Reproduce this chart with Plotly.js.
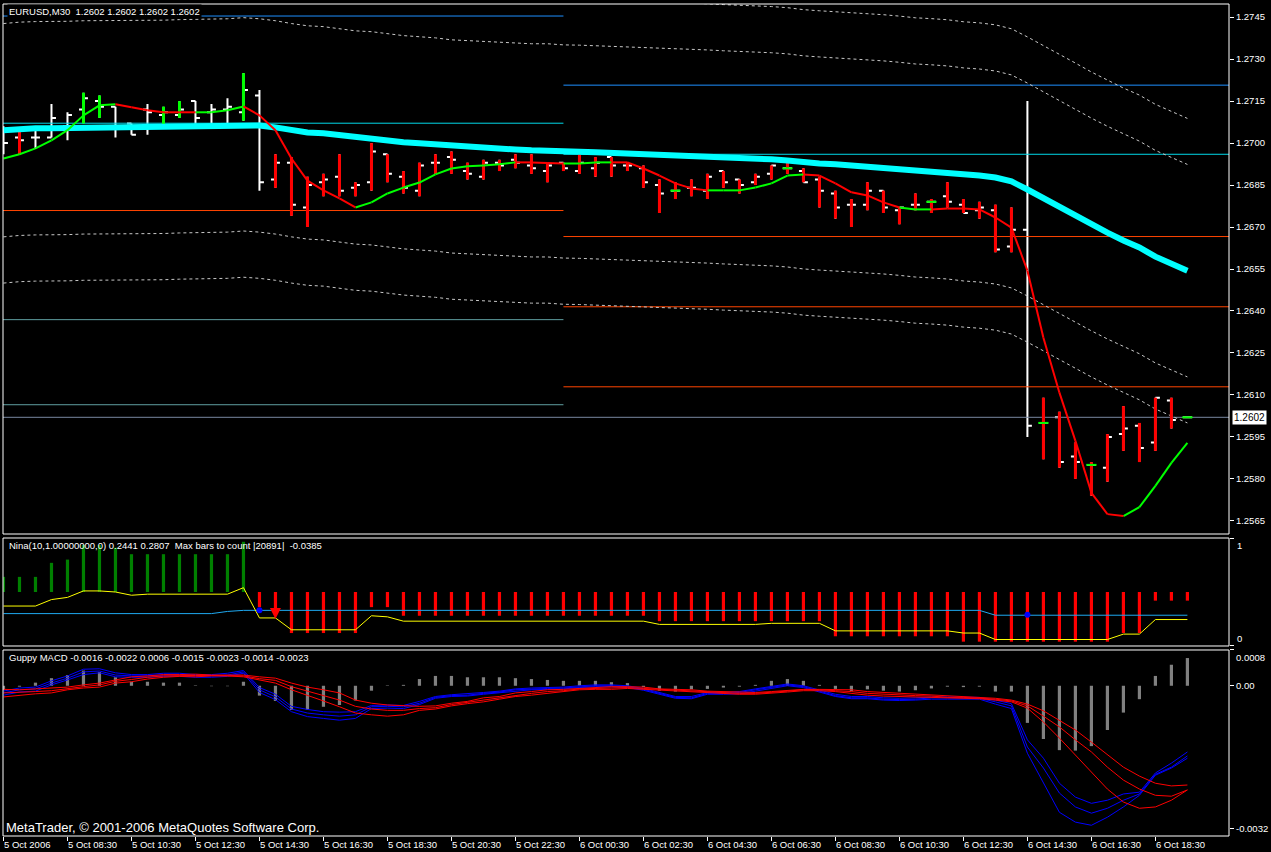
<!DOCTYPE html>
<html><head><meta charset="utf-8">
<script src="https://cdn.plot.ly/plotly-3.0.1.min.js"></script>
<style>html,body{margin:0;padding:0;background:#000;}#chart{width:1271px;height:852px;}</style>
</head><body><div id="chart"></div>
<script>
// ---------- DATA ----------
const tickIndex = [0,4,8,12,16,20,24,28,32,36,40,44,48,52,56,60,64,68,72];
const tickLabels = ["5 Oct 2006","5 Oct 08:30","5 Oct 10:30","5 Oct 12:30","5 Oct 14:30","5 Oct 16:30","5 Oct 18:30","5 Oct 20:30","5 Oct 22:30","6 Oct 00:30","6 Oct 02:30","6 Oct 04:30","6 Oct 06:30","6 Oct 08:30","6 Oct 10:30","6 Oct 12:30","6 Oct 14:30","6 Oct 16:30","6 Oct 18:30"];

const open  = [1.2697,1.2702,1.2702,1.2702,1.2706,1.2712,1.2715,1.2713,1.2707,1.2712,1.2710,1.2710,1.2715,1.2711,1.2712,1.2711,1.2717,1.2687,1.2693,1.2677,1.2686,1.2688,1.2684,1.2686,1.2696,1.2688,1.2683,1.2693,1.2695,1.2690,1.2688,1.2693,1.2694,1.2692,1.2690,1.2693,1.2690,1.2691,1.2695,1.2692,1.2691,1.2685,1.2683,1.2684,1.2683,1.2690,1.2687,1.2686,1.2689,1.2691,1.2690,1.2687,1.2682,1.2678,1.2678,1.2683,1.2676,1.2678,1.2679,1.2681,1.2678,1.2676,1.2676,1.2663,1.2669,1.2600,1.2602,1.2588,1.2585,1.2584,1.2596,1.2599,1.2593,1.2608,1.2602];
const high  = [1.2706,1.2704,1.2706,1.2714,1.2711,1.2718,1.2717,1.2713,1.2707,1.2714,1.2713,1.2715,1.2715,1.2714,1.2716,1.2725,1.2719,1.2696,1.2695,1.2688,1.2689,1.2696,1.2686,1.2700,1.2696,1.2690,1.2693,1.2696,1.2697,1.2693,1.2694,1.2694,1.2696,1.2696,1.2693,1.2693,1.2696,1.2695,1.2695,1.2693,1.2692,1.2687,1.2686,1.2687,1.2689,1.2690,1.2687,1.2689,1.2692,1.2693,1.2691,1.2688,1.2683,1.2680,1.2686,1.2683,1.2677,1.2682,1.2680,1.2686,1.2680,1.2679,1.2678,1.2677,1.2715,1.2609,1.2604,1.2593,1.2586,1.2596,1.2606,1.2600,1.2609,1.2609,1.2602];
const low   = [1.2696,1.2696,1.2698,1.2702,1.2701,1.2707,1.2709,1.2702,1.2703,1.2703,1.2706,1.2709,1.2705,1.2705,1.2707,1.2708,1.2683,1.2684,1.2674,1.2670,1.2681,1.2681,1.2681,1.2683,1.2686,1.2682,1.2681,1.2689,1.2689,1.2687,1.2687,1.2690,1.2691,1.2689,1.2686,1.2690,1.2689,1.2688,1.2688,1.2690,1.2684,1.2675,1.2680,1.2681,1.2680,1.2684,1.2682,1.2685,1.2687,1.2689,1.2686,1.2677,1.2673,1.2670,1.2676,1.2675,1.2671,1.2676,1.2675,1.2677,1.2675,1.2673,1.2661,1.2661,1.2595,1.2587,1.2584,1.2580,1.2574,1.2579,1.2590,1.2586,1.2590,1.2598,1.2602];
const close = [1.2700,1.2701,1.2702,1.2709,1.2710,1.2716,1.2713,1.2705,1.2703,1.2711,1.2711,1.2712,1.2709,1.2712,1.2713,1.2719,1.2686,1.2693,1.2678,1.2685,1.2687,1.2683,1.2685,1.2697,1.2689,1.2684,1.2692,1.2693,1.2694,1.2689,1.2693,1.2692,1.2693,1.2691,1.2692,1.2691,1.2693,1.2693,1.2692,1.2692,1.2686,1.2682,1.2683,1.2684,1.2688,1.2686,1.2685,1.2688,1.2692,1.2691,1.2686,1.2683,1.2677,1.2678,1.2683,1.2677,1.2677,1.2678,1.2679,1.2679,1.2675,1.2677,1.2662,1.2669,1.2599,1.2600,1.2586,1.2586,1.2585,1.2595,1.2598,1.2591,1.2609,1.2601,1.2602];
// bar body colour: w = white, r = red, g = lime
const barColor = ["w","r","w","w","w","g","g","w","w","w","g","g","w","w","w","g","w","r","r","r","r","r","r","r","r","r","r","r","r","r","r","r","r","r","r","r","r","r","r","r","r","r","r","r","r","r","r","r","r","r","r","r","r","r","r","r","r","r","r","r","r","r","r","r","w","r","r","r","r","r","r","r","r","r","g"];
const dashBars = [42,49,58,65,68,74];

const slowMA = [1.27046,1.27051,1.27053,1.27053,1.27054,1.27056,1.27056,1.27056,1.27056,1.27056,1.27058,1.27060,1.27060,1.27062,1.27063,1.27067,1.27063,1.27056,1.27046,1.27038,1.27035,1.27028,1.27020,1.27017,1.27010,1.27003,1.26999,1.26995,1.26988,1.26985,1.26983,1.26981,1.26977,1.26974,1.26974,1.26970,1.26969,1.26967,1.26965,1.26963,1.26961,1.26960,1.26956,1.26956,1.26952,1.26949,1.26947,1.26945,1.26942,1.26938,1.26931,1.26927,1.26924,1.26920,1.26917,1.26913,1.26908,1.26902,1.26899,1.26895,1.26888,1.26884,1.26877,1.26863,1.26834,1.26802,1.26770,1.26741,1.26709,1.26680,1.26652,1.26627,1.26594,1.26569,1.26544];
const envelopePct = [0.30, 0.43];
const fastMA = [1.26945,1.26960,1.26981,1.27010,1.27046,1.27099,1.27135,1.27139,1.27128,1.27117,1.27110,1.27110,1.27110,1.27110,1.27117,1.27131,1.27099,1.27046,1.26945,1.26866,1.26831,1.26802,1.26770,1.26788,1.26820,1.26841,1.26859,1.26888,1.26909,1.26917,1.26920,1.26924,1.26931,1.26931,1.26929,1.26927,1.26927,1.26931,1.26931,1.26931,1.26909,1.26884,1.26856,1.26838,1.26831,1.26831,1.26831,1.26841,1.26856,1.26884,1.26888,1.26884,1.26856,1.26824,1.26813,1.26788,1.26770,1.26763,1.26763,1.26766,1.26766,1.26763,1.26734,1.26698,1.26544,1.26304,1.26108,1.25936,1.25750,1.25674,1.25667,1.25699,1.25775,1.25857,1.25929];
const fastTrend = ["g","g","g","g","g","g","g","g","r","r","r","r","r","g","g","g","r","r","r","r","r","r","r","g","g","g","g","g","g","g","g","g","g","r","r","r","g","g","g","r","r","r","r","r","r","g","g","g","g","g","g","r","r","r","r","r","r","g","g","r","r","r","r","r","r","r","r","r","r","r","r","g","g","g","g"];

const dayBreak = 35;
const day1Levels = [1.27454, 1.27071, 1.26759, 1.26369, 1.26065];
const day1Colors = ["#1E90FF","#00D8E8","#FF4500","#5F9EA0","#5F9EA0"];
const day2Levels = [1.27207, 1.26960, 1.26666, 1.26415, 1.26129];
const day2Colors = ["#1E90FF","#00D8E8","#FF4500","#FF4500","#FF4500"];
const lastPrice = 1.2602;
const priceTicks = [1.2745,1.2730,1.2715,1.2700,1.2685,1.2670,1.2655,1.2640,1.2625,1.2610,1.2595,1.2580,1.2565];

// Nina
const ninaBase = 0.5;
const ninaHist = [0.64,0.64,0.64,0.77,0.80,0.935,0.935,0.91,0.85,0.85,0.85,0.85,0.85,0.85,0.85,0.965,0.36,0.31,0.12,0.12,0.12,0.12,0.12,0.36,0.36,0.28,0.28,0.28,0.28,0.28,0.28,0.28,0.28,0.28,0.28,0.28,0.28,0.28,0.28,0.28,0.28,0.23,0.23,0.23,0.23,0.23,0.23,0.23,0.23,0.23,0.23,0.23,0.09,0.09,0.09,0.09,0.09,0.09,0.09,0.09,0.04,0.04,0.04,0.04,0.04,0.04,0.04,0.04,0.04,0.04,0.12,0.12,0.42,0.42,0.42];
const ninaYellow = [0.37,0.37,0.37,0.43,0.45,0.51,0.51,0.50,0.47,0.48,0.48,0.48,0.48,0.48,0.48,0.54,0.26,0.26,0.15,0.15,0.15,0.15,0.15,0.28,0.27,0.23,0.23,0.23,0.23,0.23,0.23,0.23,0.23,0.23,0.23,0.23,0.23,0.23,0.23,0.23,0.23,0.20,0.20,0.20,0.20,0.20,0.20,0.20,0.21,0.21,0.21,0.21,0.14,0.14,0.14,0.14,0.14,0.14,0.14,0.14,0.12,0.12,0.06,0.06,0.06,0.06,0.06,0.06,0.06,0.06,0.11,0.11,0.245,0.245,0.245];
const ninaBlue = [0.30,0.30,0.30,0.30,0.30,0.30,0.30,0.30,0.30,0.30,0.30,0.30,0.30,0.30,0.32,0.33,0.33,0.33,0.33,0.33,0.33,0.33,0.33,0.33,0.33,0.33,0.33,0.33,0.33,0.33,0.33,0.33,0.33,0.33,0.33,0.33,0.33,0.33,0.33,0.33,0.33,0.33,0.33,0.33,0.33,0.33,0.33,0.33,0.33,0.33,0.33,0.33,0.33,0.33,0.33,0.33,0.33,0.33,0.33,0.33,0.33,0.33,0.285,0.285,0.285,0.285,0.285,0.285,0.285,0.285,0.285,0.285,0.285,0.285,0.285];
const ninaDotBars = [16, 64];
const ninaDotVals = [0.33, 0.29];
const ninaArrowBars = [17];
const ninaArrowVals = [0.25];

// Guppy MACD
const macdHist = [-0.0001,-0.00002,0.00007,0.00017,0.00024,0.00034,0.00031,0.00019,0.00009,0.00009,0.00007,0.00007,0.00001,-0.00001,-0.00001,0.00009,-0.00022,-0.00034,-0.00054,-0.00054,-0.00047,-0.00043,-0.00033,-0.00011,0.00001,0.00002,0.00015,0.00022,0.00022,0.00019,0.00019,0.00019,0.00017,0.00015,0.00013,0.00011,0.00011,0.00011,0.00008,0.00006,-0.00003,-0.00011,-0.00013,-0.00008,-0.00007,-0.00004,-0.00002,0.00002,0.00011,0.00015,0.00011,0.00002,-0.00007,-0.00012,-0.00008,-0.00011,-0.00013,-0.0001,-0.00006,-0.00002,-0.00003,-0.00002,-0.00013,-0.00013,-0.00083,-0.00119,-0.00144,-0.00145,-0.00135,-0.00099,-0.0006,-0.0003,0.00022,0.00047,0.00062];
const blue1 = [-0.00012,-0.00005,-0.00003,0.00011,0.00022,0.00037,0.00038,0.00029,0.00025,0.00025,0.00028,0.00028,0.00025,0.00025,0.00028,0.00034,-0.00004,-0.00019,-0.00046,-0.00053,-0.00058,-0.00059,-0.00058,-0.00044,-0.00043,-0.00044,-0.00035,-0.00024,-0.0002,-0.00018,-0.00015,-0.00012,-0.00007,-0.00005,-0.00004,-0.00003,0,0.00002,0.00002,0,-0.00006,-0.00015,-0.00024,-0.00024,-0.00015,-0.00015,-0.00013,-0.00007,-0.00001,0.00004,0,-0.00009,-0.00019,-0.00024,-0.00024,-0.00027,-0.00028,-0.00027,-0.00025,-0.00025,-0.00025,-0.00026,-0.00032,-0.0004,-0.00121,-0.00162,-0.00218,-0.00249,-0.00263,-0.00256,-0.00242,-0.00238,-0.00195,-0.00173,-0.00148];
const blue2 = [-0.00016,-0.00009,-0.00007,0.00006,0.00017,0.00031,0.00033,0.00024,0.00022,0.00022,0.00024,0.00024,0.00022,0.00022,0.00024,0.00031,-0.00009,-0.00025,-0.00052,-0.00061,-0.00065,-0.00068,-0.00065,-0.00047,-0.00046,-0.00047,-0.00039,-0.00026,-0.00022,-0.00021,-0.00017,-0.00014,-0.00009,-0.00007,-0.00006,-0.00005,-0.00002,0,0,-0.00002,-0.00008,-0.00017,-0.00026,-0.00027,-0.00017,-0.00017,-0.00015,-0.00009,-0.00003,0.00002,-0.00002,-0.00012,-0.00022,-0.00027,-0.00027,-0.0003,-0.00031,-0.0003,-0.00027,-0.00027,-0.00027,-0.00028,-0.00036,-0.00045,-0.00137,-0.00184,-0.0024,-0.00271,-0.00285,-0.00274,-0.00256,-0.00242,-0.00198,-0.00182,-0.00157];
const blue3 = [-0.00021,-0.00014,-0.00012,0.00002,0.00013,0.00025,0.00029,0.0002,0.00019,0.00019,0.00021,0.00021,0.00019,0.00019,0.00021,0.00028,-0.00015,-0.00031,-0.00058,-0.00069,-0.00073,-0.00077,-0.00073,-0.00051,-0.0005,-0.00051,-0.00042,-0.00028,-0.00024,-0.00023,-0.00019,-0.00016,-0.00012,-0.00009,-0.00008,-0.00007,-0.00004,-0.00002,-0.00002,-0.00004,-0.0001,-0.00019,-0.00028,-0.00029,-0.00019,-0.00019,-0.00018,-0.00012,-0.00006,0,-0.00004,-0.00014,-0.00024,-0.00029,-0.00029,-0.00032,-0.00033,-0.00032,-0.0003,-0.0003,-0.0003,-0.0003,-0.00041,-0.00051,-0.00151,-0.00218,-0.00283,-0.00305,-0.00312,-0.00294,-0.00271,-0.00245,-0.002,-0.00184,-0.00162];
const red1 = [-0.00008,-0.00009,-0.00007,-0.00005,-0.00003,0.00002,0.00006,0.00013,0.0002,0.00022,0.00025,0.00025,0.00026,0.00024,0.00024,0.00024,0.0002,0.00017,0.00006,-0.00003,-0.00009,-0.00016,-0.00032,-0.00039,-0.00043,-0.00045,-0.00046,-0.00045,-0.00039,-0.00035,-0.00027,-0.00024,-0.00016,-0.00013,-0.00009,-0.00008,-0.00006,-0.00004,-0.00002,-0.00002,-0.00003,-0.00007,-0.00008,-0.00009,-0.00012,-0.00013,-0.00015,-0.00015,-0.00013,-0.00011,-0.00008,-0.00008,-0.00009,-0.00009,-0.00013,-0.00015,-0.00017,-0.00019,-0.00021,-0.00023,-0.00024,-0.00027,-0.00028,-0.00032,-0.00041,-0.00056,-0.00077,-0.00099,-0.00126,-0.00155,-0.00182,-0.00202,-0.00218,-0.00224,-0.00222];
const red2 = [-0.00016,-0.00015,-0.00013,-0.00011,-0.00006,-0.00002,0.00002,0.0001,0.00014,0.00019,0.00022,0.00023,0.00023,0.00023,0.00023,0.00022,0.00016,0.00012,-0.00002,-0.00012,-0.00022,-0.00032,-0.00046,-0.00052,-0.00055,-0.00055,-0.00051,-0.00049,-0.00042,-0.00037,-0.00032,-0.00027,-0.00021,-0.00017,-0.00013,-0.00011,-0.00007,-0.00006,-0.00005,-0.00004,-0.00006,-0.00008,-0.00009,-0.00012,-0.00013,-0.00015,-0.00017,-0.00017,-0.00015,-0.00012,-0.00009,-0.00009,-0.00011,-0.00013,-0.00017,-0.00019,-0.00021,-0.00022,-0.00023,-0.00026,-0.00026,-0.00028,-0.0003,-0.00034,-0.00045,-0.00068,-0.00092,-0.00121,-0.00148,-0.00182,-0.00211,-0.00231,-0.00245,-0.00247,-0.00233];
const red3 = [-0.00025,-0.00021,-0.00018,-0.00016,-0.00009,-0.00005,-0.00003,0.00006,0.00009,0.00015,0.00019,0.00021,0.0002,0.00022,0.00022,0.0002,0.00013,0.00006,-0.00009,-0.00021,-0.00034,-0.00047,-0.00061,-0.00065,-0.00068,-0.00065,-0.00055,-0.00052,-0.00045,-0.0004,-0.00036,-0.0003,-0.00024,-0.00021,-0.00017,-0.00013,-0.00009,-0.00008,-0.00008,-0.00006,-0.00008,-0.00009,-0.00011,-0.00013,-0.00015,-0.00017,-0.00019,-0.00019,-0.00017,-0.00014,-0.00011,-0.00011,-0.00013,-0.00017,-0.00021,-0.00023,-0.00024,-0.00026,-0.00026,-0.00028,-0.00028,-0.00029,-0.00032,-0.00036,-0.0005,-0.00081,-0.00117,-0.00155,-0.00193,-0.00231,-0.0026,-0.00274,-0.00271,-0.00256,-0.00233];
const macdTickVals = [0.0008, 0, -0.0032];
const macdTickText = ["0.0008","0.00","-0.0032"];

// ---------- BUILD ----------
const idx = open.map((_, i) => i);
const FONT = "Liberation Sans, Arial, sans-serif";
const traces = [];
const line = (x, y, color, width, yaxis, dash) => ({type:"scatter", mode:"lines", x, y, xaxis:"x", yaxis, line:{color, width, dash: dash || "solid"}, hoverinfo:"skip", showlegend:false, connectgaps:false});

// pivot levels
day1Levels.forEach((v, k) => traces.push(line([-2, dayBreak], [v, v], day1Colors[k], 1, "y")));
day2Levels.forEach((v, k) => traces.push(line([dayBreak, 90], [v, v], day2Colors[k], 1, "y")));
traces.push(line([-2, 90], [lastPrice, lastPrice], "#7888A0", 1, "y"));

// envelopes
envelopePct.forEach(p => {
  traces.push(line(idx, slowMA.map(v => v * (1 + p / 100)), "#C8C8C8", 1, "y", "3px,3px"));
  traces.push(line(idx, slowMA.map(v => v * (1 - p / 100)), "#C8C8C8", 1, "y", "3px,3px"));
});

// bars (white OHLC)
traces.push({type:"ohlc", x: idx, open, high, low, close, xaxis:"x", yaxis:"y", tickwidth:0.28,
  increasing:{line:{color:"#FFFFFF", width:2}}, decreasing:{line:{color:"#FFFFFF", width:2}},
  hoverinfo:"skip", showlegend:false});
// coloured high-low overlays
[["r","#FF0000"],["g","#00FF00"]].forEach(([c, col]) => {
  const xs = [], ys = [];
  idx.forEach(i => { if (barColor[i] === c && high[i] > low[i]) { xs.push(i, i, null); ys.push(low[i], high[i], null); } });
  traces.push(line(xs, ys, col, 3, "y"));
});
// green dashes (doji marks)
{
  const xs = [], ys = [];
  dashBars.forEach(i => { xs.push(i - 0.32, i + 0.32, null); ys.push(close[i], close[i], null); });
  traces.push(line(xs, ys, "#00FF00", 2, "y"));
}
// slow MA (thick cyan)
traces.push(line(idx, slowMA, "#00FFFF", 6, "y"));
// fast MA coloured by trend
[["g","#00FF00"],["r","#FF0000"]].forEach(([c, col]) => {
  const xs = [], ys = [];
  for (let i = 1; i < idx.length; i++) if (fastTrend[i] === c) { xs.push(i - 1, i, null); ys.push(fastMA[i - 1], fastMA[i], null); }
  traces.push(line(xs, ys, col, 2, "y"));
});

// Nina
traces.push({type:"bar", x: idx, y: ninaHist.map(v => v - ninaBase), base: ninaBase, width:0.2, xaxis:"x", yaxis:"y2",
  marker:{color: ninaHist.map(v => v > ninaBase ? "#008000" : "#FF0000"), line:{width:0}}, hoverinfo:"skip", showlegend:false});
traces.push(line(idx, ninaBlue, "#1EA8F0", 1, "y2"));
traces.push(line(idx, ninaYellow, "#FFFF00", 1, "y2"));
traces.push({type:"scatter", mode:"markers", x: ninaDotBars, y: ninaDotVals, xaxis:"x", yaxis:"y2", marker:{color:"#0000FF", size:6}, hoverinfo:"skip", showlegend:false});
traces.push({type:"scatter", mode:"markers", x: ninaArrowBars, y: ninaArrowVals, xaxis:"x", yaxis:"y2", marker:{color:"#FF0000", size:11, symbol:"arrow-down", line:{width:0}}, hoverinfo:"skip", showlegend:false});

// MACD
traces.push({type:"bar", x: idx, y: macdHist, width:0.2, xaxis:"x", yaxis:"y3", marker:{color:"#808080", line:{width:0}}, hoverinfo:"skip", showlegend:false});
[blue1, blue2, blue3].forEach(s => traces.push(line(idx, s, "#0000FF", 1, "y3")));
[red1, red2, red3].forEach(s => traces.push(line(idx, s, "#FF0000", 1, "y3")));

// ---------- LAYOUT ----------
const tf = {family: FONT, size: 9.5, color: "#FFFFFF"};
const panelRect = (yref) => ({type:"rect", xref:"paper", yref, x0:0, x1:1, y0:0, y1:1, line:{color:"#FFFFFF", width:1}, layer:"above"});
const annotations = [
  {xref:"paper", yref:"y domain", x:0, y:1, xanchor:"left", yanchor:"top", xshift:4, yshift:0, showarrow:false, text:"EURUSD,M30  1.2602 1.2602 1.2602 1.2602", font:tf, bgcolor:"#000000"},
  {xref:"paper", yref:"y2 domain", x:0, y:1, xanchor:"left", yanchor:"top", xshift:4, yshift:0, showarrow:false, text:"Nina(10,1.00000000,0) 0.2441 0.2807  Max bars to count |20891|  -0.0385", font:tf},
  {xref:"paper", yref:"y3 domain", x:0, y:1, xanchor:"left", yanchor:"top", xshift:4, yshift:0, showarrow:false, text:"Guppy MACD -0.0016 -0.0022 0.0006 -0.0015 -0.0023 -0.0014 -0.0023", font:tf},
  {xref:"paper", yref:"y3 domain", x:0, y:0, xanchor:"left", yanchor:"bottom", xshift:1, yshift:-1, showarrow:false, text:"MetaTrader, © 2001-2006 MetaQuotes Software Corp.", font:{family: FONT, size: 13, color:"#FFFFFF"}},
  {xref:"paper", yref:"y", x:1, y:lastPrice, xanchor:"left", yanchor:"middle", xshift:3, showarrow:false, text:lastPrice.toFixed(4), font:{family: FONT, size: 10, color:"#000000"}, bgcolor:"#FFFFFF", borderpad:1},
  {xref:"paper", yref:"y2", x:1, y:1, xanchor:"left", yanchor:"top", xshift:6, showarrow:false, text:"1", font:tf},
  {xref:"paper", yref:"y2", x:1, y:0, xanchor:"left", yanchor:"bottom", xshift:6, showarrow:false, text:"0", font:tf}
];
macdTickVals.forEach((v, k) => annotations.push({xref:"paper", yref:"y3", x:1, y:v, xanchor:"left", yanchor: k === 0 ? "top" : "middle", xshift:5, showarrow:false, text:macdTickText[k], font:tf}));

const layout = {
  width:1271, height:852,
  paper_bgcolor:"#000000", plot_bgcolor:"#000000",
  margin:{l:3, r:42, t:4, b:16},
  showlegend:false, barmode:"overlay",
  font:{family: FONT, color:"#FFFFFF"},
  xaxis:{type:"linear", range:[-0.03, 76.6], anchor:"y3", showgrid:false, zeroline:false, showline:false,
    rangeslider:{visible:false}, tickmode:"array", tickvals:tickIndex, ticktext:tickLabels, tickangle:0,
    ticks:"outside", ticklen:4, tickcolor:"#FFFFFF", tickfont:tf, ticklabelposition:"outside right"},
  yaxis:{domain:[0.36298, 1], range:[1.25603, 1.27497], side:"right", anchor:"x", showgrid:false, zeroline:false, showline:false,
    tickmode:"array", tickvals:priceTicks, ticktext:priceTicks.map(v => v.toFixed(4)), ticks:"outside", ticklen:4, tickcolor:"#FFFFFF", tickfont:tf},
  yaxis2:{domain:[0.22837, 0.35817], range:[0, 1], side:"right", anchor:"x", showgrid:false, zeroline:false, showline:false,
    tickmode:"array", tickvals:[0, 1], showticklabels:false, ticks:"outside", ticklen:4, tickcolor:"#FFFFFF"},
  yaxis3:{domain:[0, 0.22356], range:[-0.00336, 0.0008], side:"right", anchor:"x", showgrid:false, zeroline:false, showline:false,
    tickmode:"array", tickvals:macdTickVals, showticklabels:false, ticks:"outside", ticklen:4, tickcolor:"#FFFFFF"},
  shapes:[panelRect("y domain"), panelRect("y2 domain"), panelRect("y3 domain")],
  annotations
};

Plotly.newPlot("chart", traces, layout, {displayModeBar:false, staticPlot:true});
</script></body></html>
